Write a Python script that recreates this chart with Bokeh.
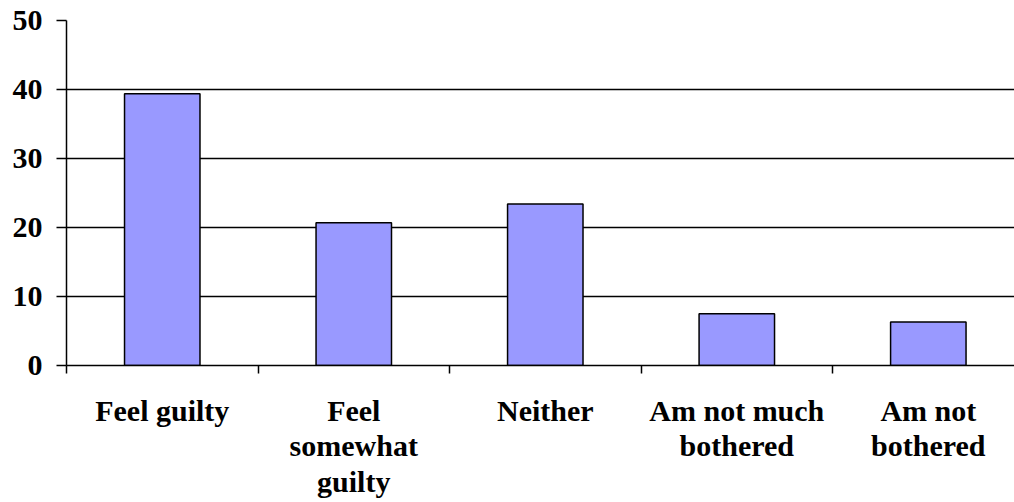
from bokeh.plotting import figure
from bokeh.models import Range1d, FixedTicker, ColumnDataSource
from bokeh.embed import file_html
from bokeh.resources import INLINE

categories = ["Feel guilty", "Feel\nsomewhat\nguilty", "Neither", "Am not much\nbothered", "Am not\nbothered"]
values = [39.4, 20.7, 23.4, 7.5, 6.3]
y_ticks = [0, 10, 20, 30, 40, 50]

centers = [i + 0.5 for i in range(len(categories))]
source = ColumnDataSource(dict(x=centers, top=values))

p = figure(width=1014, height=502, output_backend="svg", toolbar_location=None,
           x_range=Range1d(0, 4.95), y_range=Range1d(0, 50),
           min_border_left=66, min_border_top=20, min_border_right=0, min_border_bottom=137)
p.outline_line_color = None
p.background_fill_color = "white"
p.border_fill_color = "white"

p.vbar(x="x", top="top", width=0.394, bottom=0, source=source,
       fill_color="#9999FF", line_color="black", line_width=1.5)

# y axis
p.yaxis.ticker = FixedTicker(ticks=y_ticks, minor_ticks=[])
p.yaxis.axis_line_color = "black"
p.yaxis.axis_line_width = 1.5
p.yaxis.major_tick_line_color = "black"
p.yaxis.major_tick_line_width = 1.5
p.yaxis.major_tick_out = 10
p.yaxis.major_tick_in = 0
p.yaxis.minor_tick_line_color = None
p.yaxis.major_label_standoff = 14
p.yaxis.major_label_text_font = "Liberation Serif"
p.yaxis.major_label_text_font_style = "bold"
p.yaxis.major_label_text_font_size = "30px"
p.yaxis.major_label_text_color = "black"

# x axis: labels at centers, ticks at category boundaries
p.xaxis.ticker = FixedTicker(ticks=centers, minor_ticks=[0, 1, 2, 3, 4, 5])
p.xaxis.major_label_overrides = {c: lab for c, lab in zip(centers, categories)}
p.xaxis.axis_line_color = "black"
p.xaxis.axis_line_width = 1.5
p.xaxis.major_tick_line_color = None
p.xaxis.minor_tick_line_color = "black"
p.xaxis.minor_tick_line_width = 1.5
p.xaxis.minor_tick_out = 8
p.xaxis.minor_tick_in = 0
p.xaxis.major_label_standoff = 20
p.xaxis.major_label_text_font = "Liberation Serif"
p.xaxis.major_label_text_font_style = "bold"
p.xaxis.major_label_text_font_size = "30px"
p.xaxis.major_label_text_color = "black"
p.xaxis.major_label_text_line_height = 1.08

p.xgrid.visible = False
p.ygrid.ticker = FixedTicker(ticks=y_ticks)
p.ygrid.grid_line_color = "black"
p.ygrid.grid_line_width = 1.4

open("out.html", "w").write(file_html(p, INLINE))
